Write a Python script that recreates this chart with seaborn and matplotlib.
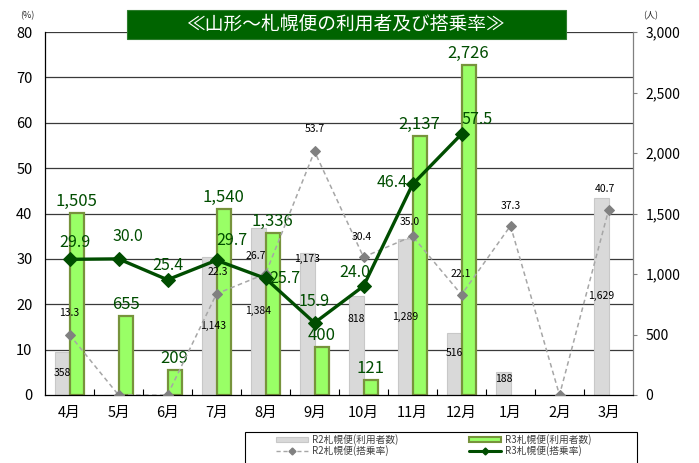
import numpy as np
import pandas as pd
import matplotlib
matplotlib.use("Agg")
import matplotlib.pyplot as plt
import seaborn as sns
from matplotlib.patches import Rectangle, Patch
from matplotlib.lines import Line2D

# --- data ---
months = ['4月', '5月', '6月', '7月', '8月', '9月', '10月', '11月', '12月', '1月', '2月', '3月']
r2_users = [358, 0, 0, 1143, 1384, 1173, 818, 1289, 516, 188, 0, 1629]
r3_users = [1505, 655, 209, 1540, 1336, 400, 121, 2137, 2726]
r2_rate = [13.3, 0.0, 0.0, 22.3, 26.7, 53.7, 30.4, 35.0, 22.1, 37.3, 0.0, 40.7]
r3_rate = [29.9, 30.0, 25.4, 29.7, 25.7, 15.9, 24.0, 46.4, 57.5]

title = '≪山形～札幌便の利用者及び搭乗率≫'
series_names = ['R2札幌便(利用者数)', 'R3札幌便(利用者数)', 'R2札幌便(搭乗率)', 'R3札幌便(搭乗率)']

# label nudges in pixels (dx, dy), purely cosmetic
r2_user_nudge = [(0, 0), (0, 0), (0, 0), (4, 0), (0, 0), (0, 65), (0, 27), (0, 0), (0, 11), (0, 5), (0, 0), (0, 0)]
r3_rate_nudge = [(5, 17), (9, 22), (0, 14), (15, 20), (19, 0), (0, 21), (-9, 14), (-20, 2), (16, 15)]
r2_rate_nudge = [(0, 22), (0, 0), (0, 0), (1, 22), (-10, 18), (0, 22), (-2, 20), (-3, 14), (-1, 21), (0, 20), (0, 0), (-4, 21)]

sns.set_theme(style='white')
plt.rcParams['font.family'] = ['Noto Sans CJK JP', 'DejaVu Sans']

GRAY = '#d9d9d9'
LGREEN = '#99ff66'
OLIVE = '#77933c'
DGREEN = '#004d00'

fig = plt.figure(figsize=(6.99, 4.63), dpi=100)
ax_bar = fig.add_axes([45/699, 1-395/463, (633-45)/699, (395-32)/463])
ax_line = ax_bar.twinx()

# bars (right axis, persons)
df = pd.DataFrame({
    'month': months + months[:len(r3_users)],
    'series': ['R2'] * len(r2_users) + ['R3'] * len(r3_users),
    'users': r2_users + r3_users,
})
sns.barplot(data=df, x='month', y='users', hue='series', order=months,
            hue_order=['R2', 'R3'], palette={'R2': GRAY, 'R3': LGREEN}, saturation=1,
            width=0.58, errorbar=None, legend=False, ax=ax_bar, zorder=2)
for p in ax_bar.containers[0]:
    p.set_edgecolor('#c8c8c8')
    p.set_linewidth(0.8)
for p in ax_bar.containers[1]:
    p.set_edgecolor(OLIVE)
    p.set_linewidth(1.6)

ax_bar.set_ylim(0, 3000)
ax_bar.set_xlim(-0.5, 11.5)
# horizontal grid follows the left (%) scale
for v in range(10, 81, 10):
    ax_bar.axhline(v * 3000 / 80, color='#3a3a3a', lw=0.9, zorder=0.5)

# bar labels
for i, (bar, val) in enumerate(zip(ax_bar.containers[0], r2_users)):
    if val == 0:
        continue
    cx = bar.get_x() + bar.get_width() / 2
    dx, dy = r2_user_nudge[i]
    ax_bar.annotate(f'{val:,}', (cx, val / 2), xytext=(dx, dy), textcoords='offset pixels',
                    ha='center', va='center', fontsize=7.5, color='black', zorder=5)
for bar, val in zip(ax_bar.containers[1], r3_users):
    cx = bar.get_x() + bar.get_width() / 2
    ax_bar.annotate(f'{val:,}', (cx, val), xytext=(0, 3), textcoords='offset pixels',
                    ha='center', va='bottom', fontsize=12, color=DGREEN, zorder=5)

# lines (left axis, %)
x_pos = np.arange(len(months))
sns.lineplot(x=x_pos, y=r2_rate, ax=ax_line, color='#a6a6a6', linestyle='--', linewidth=1.1,
             marker='D', markersize=5, markerfacecolor='#808080', markeredgecolor='#808080', zorder=3)
ax_line.lines[-1].set_dashes([3, 2.2])
sns.lineplot(x=x_pos[:len(r3_rate)], y=r3_rate, ax=ax_line, color=DGREEN, linewidth=2.4,
             marker='D', markersize=7, markerfacecolor=DGREEN, markeredgecolor=DGREEN, zorder=4)

for i, val in enumerate(r2_rate):
    if val == 0:
        continue
    dx, dy = r2_rate_nudge[i]
    ax_line.annotate(f'{val:.1f}', (i, val), xytext=(dx, dy), textcoords='offset pixels',
                     ha='center', va='center', fontsize=7.5, color='black', zorder=5)
for i, val in enumerate(r3_rate):
    dx, dy = r3_rate_nudge[i]
    ax_line.annotate(f'{val:.1f}', (i, val), xytext=(dx, dy), textcoords='offset pixels',
                     ha='center', va='center', fontsize=11.5, color=DGREEN, zorder=6)

ax_line.set_ylim(0, 80)
ax_line.set_xlim(-0.5, 11.5)
ax_line.set_xlabel('')
ax_line.set_ylabel('')
ax_bar.set_xlabel('')
ax_bar.set_ylabel('')

# axes styling
ax_line.yaxis.tick_left()
ax_line.set_yticks(range(0, 81, 10))
ax_line.tick_params(axis='y', length=0, pad=9, labelsize=10.5, labelcolor='black')
ax_bar.yaxis.tick_right()
ax_bar.set_yticks(range(0, 3001, 500))
ax_bar.set_yticklabels([f'{v:,}' for v in range(0, 3001, 500)])
ax_bar.tick_params(axis='y', which='major', right=True, left=False, length=3, width=0.8,
                   color='#808080', direction='out', pad=6, labelsize=10, labelcolor='black')
ax_bar.set_xticks(x_pos)
ax_bar.set_xticklabels(months)
ax_bar.tick_params(axis='x', which='major', length=0, pad=8, labelsize=10.5, labelcolor='black')
ax_bar.set_xticks(np.arange(0.5, 11, 1), minor=True)
ax_bar.tick_params(axis='x', which='minor', bottom=True, length=4, width=0.8, direction='in', color='black')

for sp in ax_bar.spines.values():
    sp.set_visible(False)
ax_line.spines['top'].set_visible(False)
ax_line.spines['left'].set_color('black')
ax_line.spines['left'].set_linewidth(0.9)
ax_line.spines['bottom'].set_color('black')
ax_line.spines['bottom'].set_linewidth(0.9)
ax_line.spines['right'].set_color('#808080')
ax_line.spines['right'].set_linewidth(0.9)
ax_bar.patch.set_visible(False)

# unit labels
fig.text(27/699, 1-16/463, '(%)', fontsize=6.5, ha='center', va='center')
fig.text(651/699, 1-16/463, '(人)', fontsize=6.5, ha='center', va='center')

# title box
fig.patches.append(Rectangle((127/699, 1-39/463), (566-127)/699, 29/463, transform=fig.transFigure,
                             facecolor='#006400', edgecolor='#2e7d2e', lw=0.8, zorder=5))
fig.text(346/699, 1-24.5/463, title, fontsize=13.5, color='white', ha='center', va='center', zorder=6)

# legend: frame drawn separately, runs off the bottom edge like the original
fig.patches.append(Rectangle((245/699, 1-475/463), (637-245)/699, 43/463, transform=fig.transFigure,
                             facecolor='white', edgecolor='black', lw=0.8, zorder=4))
handles = [
    Patch(facecolor=GRAY, edgecolor='#c8c8c8', lw=0.8),
    Line2D([], [], color='#a6a6a6', linestyle=(0, (3, 2)), lw=1, marker='D', markersize=3.5,
           markerfacecolor='#808080', markeredgecolor='#808080'),
    Patch(facecolor=LGREEN, edgecolor=OLIVE, lw=1.5),
    Line2D([], [], color=DGREEN, lw=2.2, marker='D', markersize=3.5,
           markerfacecolor=DGREEN, markeredgecolor=DGREEN),
]
labels = [series_names[0], series_names[2], series_names[1], series_names[3]]
leg = fig.legend(handles, labels, loc='upper left', bbox_to_anchor=(276/699, 1-434/463), ncol=2,
                 fontsize=7, frameon=False, handlelength=3.3, handleheight=0.45,
                 handletextpad=0.4, columnspacing=7.3, labelcolor='#404040', borderpad=0,
                 borderaxespad=0, labelspacing=0.05)
leg.set_zorder(6)

fig.savefig('out.png', dpi=100)
